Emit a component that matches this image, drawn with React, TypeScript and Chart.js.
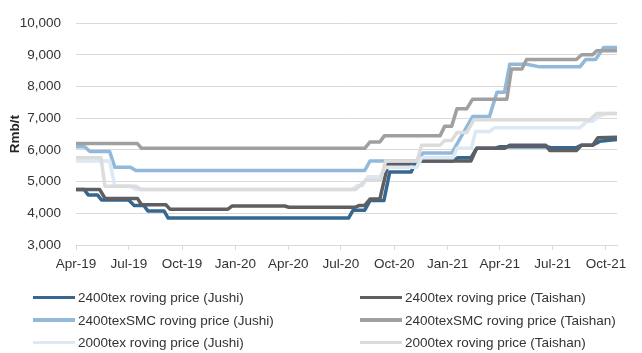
import React, { useEffect, useRef } from "react";
import { Chart, registerables } from "chart.js";

Chart.register(...registerables);

// ---------- data ----------
const seriesNames = [
  "2400tex roving price (Jushi)",
  "2400tex roving price (Taishan)",
  "2400texSMC roving price (Jushi)",
  "2400texSMC roving price (Taishan)",
  "2000tex roving price (Jushi)",
  "2000tex roving price (Taishan)",
];

const seriesColors = ["#356791", "#5f5f63", "#92b8da", "#a0a0a0", "#dce8f4", "#dcdcdc"];

const jushi2400Dates = [
  "2019-04-01", "2019-04-15", "2019-04-22", "2019-05-08", "2019-05-15", "2019-07-01", "2019-07-10",
  "2019-07-27", "2019-08-03", "2019-08-31", "2019-09-07", "2020-07-14", "2020-07-22", "2020-08-11",
  "2020-08-20", "2020-09-13", "2020-09-23", "2020-10-30", "2020-11-07", "2021-01-10", "2021-01-18",
  "2021-02-10", "2021-02-20", "2021-03-23", "2021-04-01", "2021-06-21", "2021-06-28", "2021-08-11",
  "2021-08-20", "2021-09-08", "2021-09-20", "2021-10-20",
];
const jushi2400Values = [
  4750, 4750, 4580, 4580, 4420, 4420, 4250, 4250, 4070, 4070, 3850, 3850, 4100, 4100, 4400, 4400,
  5300, 5300, 5650, 5650, 5750, 5750, 6050, 6050, 6100, 6100, 6070, 6070, 6150, 6150, 6270, 6330,
];

const taishan2400Dates = [
  "2019-04-01", "2019-05-12", "2019-05-21", "2019-07-16", "2019-07-23", "2019-09-03", "2019-09-10",
  "2019-12-19", "2019-12-26", "2020-03-26", "2020-04-02", "2020-07-25", "2020-08-02", "2020-08-11",
  "2020-08-20", "2020-09-06", "2020-09-20", "2020-10-28", "2020-11-07", "2021-02-10", "2021-02-20",
  "2021-04-09", "2021-04-18", "2021-06-19", "2021-06-26", "2021-08-11", "2021-08-20", "2021-09-08",
  "2021-09-17", "2021-10-20",
];
const taishan2400Values = [
  4750, 4750, 4470, 4470, 4270, 4270, 4130, 4130, 4230, 4230, 4190, 4190, 4250, 4250, 4450, 4450,
  5550, 5550, 5650, 5650, 6050, 6050, 6150, 6150, 5980, 5980, 6150, 6150, 6380, 6400,
];

const jushiSmcDates = [
  "2019-04-01", "2019-04-16", "2019-04-25", "2019-05-29", "2019-06-07", "2019-07-04", "2019-07-13",
  "2020-08-11", "2020-08-20", "2020-11-12", "2020-11-19", "2021-01-08", "2021-02-13", "2021-03-14",
  "2021-03-27", "2021-04-09", "2021-04-18", "2021-05-17", "2021-06-09", "2021-08-17", "2021-08-27",
  "2021-09-13", "2021-09-27", "2021-10-20",
];
const jushiSmcValues = [
  6100, 6100, 5950, 5950, 5450, 5450, 5350, 5350, 5650, 5650, 5900, 5900, 7050, 7050, 7820, 7820,
  8700, 8700, 8620, 8620, 8850, 8850, 9230, 9230,
];

const taishanSmcDates = [
  "2019-04-01", "2019-07-16", "2019-07-23", "2020-08-11", "2020-08-20", "2020-09-06", "2020-09-14",
  "2020-12-19", "2020-12-27", "2021-01-08", "2021-01-17", "2021-02-03", "2021-02-13", "2021-04-13",
  "2021-04-21", "2021-05-09", "2021-05-17", "2021-08-11", "2021-08-20", "2021-09-08", "2021-09-15",
  "2021-10-20",
];
const taishanSmcValues = [
  6200, 6200, 6050, 6050, 6250, 6250, 6450, 6450, 6750, 6750, 7300, 7300, 7600, 7600, 8550, 8550,
  8850, 8850, 9000, 9000, 9130, 9130,
];

const jushi2000Dates = [
  "2019-04-01", "2019-05-29", "2019-06-07", "2019-07-04", "2019-07-13", "2020-07-21", "2020-07-28",
  "2020-08-07", "2020-08-16", "2020-09-06", "2020-09-16", "2020-11-09", "2020-11-17", "2021-01-10",
  "2021-01-17", "2021-02-11", "2021-02-18", "2021-03-14", "2021-03-23", "2021-08-17", "2021-08-29",
  "2021-09-08", "2021-09-20", "2021-10-02", "2021-10-20",
];
const jushi2000Values = [
  5650, 5650, 4850, 4850, 4750, 4750, 4870, 4870, 5150, 5150, 5450, 5450, 5750, 5750, 6050, 6050,
  6580, 6580, 6700, 6700, 6900, 6900, 7070, 7150, 7150,
];

const taishan2000Dates = [
  "2019-04-01", "2019-05-14", "2019-05-21", "2019-07-13", "2019-07-22", "2020-07-26", "2020-08-13",
  "2020-09-07", "2020-09-16", "2020-11-09", "2020-11-17", "2020-12-19", "2020-12-27", "2021-01-08",
  "2021-01-17", "2021-02-03", "2021-02-15", "2021-09-03", "2021-09-15", "2021-10-20",
];
const taishan2000Values = [
  5750, 5750, 4850, 4850, 4750, 4750, 5050, 5050, 5650, 5650, 6150, 6150, 6300, 6300, 6550, 6550,
  6950, 6950, 7150, 7150,
];

const xStart = "2019-04-01";
const xEnd = "2021-10-20";
const tickDates = [
  "2019-04-01", "2019-07-01", "2019-10-01", "2020-01-01", "2020-04-01", "2020-07-01",
  "2020-10-01", "2021-01-01", "2021-04-01", "2021-07-01", "2021-10-01",
];
const tickLabels = [
  "Apr-19", "Jul-19", "Oct-19", "Jan-20", "Apr-20", "Jul-20",
  "Oct-20", "Jan-21", "Apr-21", "Jul-21", "Oct-21",
];
const yMin = 3000;
const yMax = 10000;
const yStep = 1000;
const yTitle = "Rmb/t";

// ---------- helpers ----------
const seriesDates = [jushi2400Dates, taishan2400Dates, jushiSmcDates, taishanSmcDates, jushi2000Dates, taishan2000Dates];
const seriesValues = [jushi2400Values, taishan2400Values, jushiSmcValues, taishanSmcValues, jushi2000Values, taishan2000Values];

const dayNum = (s: string) => {
  const [y, m, d] = s.split("-").map(Number);
  return Date.UTC(y, m - 1, d) / 86400000;
};

const FONT_FAMILY = "'Liberation Sans', Arial, sans-serif";
const TEXT_COLOR = "#333333";
const GRID_COLOR = "#d9d9d9";
const FONT_SIZE = 13.5;

export default function App() {
  const ref = useRef<HTMLCanvasElement>(null);

  useEffect(() => {
    if (!ref.current) return;
    const font = { family: FONT_FAMILY, size: FONT_SIZE };
    const chart = new Chart(ref.current, {
      type: "line",
      data: {
        datasets: seriesNames.map((name, i) => ({
          label: name,
          data: seriesDates[i].map((d, j) => ({ x: dayNum(d), y: seriesValues[i][j] })),
          borderColor: seriesColors[i],
          backgroundColor: seriesColors[i],
          borderWidth: 3.5,
          pointRadius: 0,
          tension: 0,
          fill: false,
          order: seriesNames.length - i,
          borderJoinStyle: "round",
          borderCapStyle: "butt",
        })),
      },
      options: {
        animation: false,
        responsive: false,
        layout: { padding: { top: 23, right: 25, bottom: 77, left: 0 } },
        plugins: { legend: { display: false }, tooltip: { enabled: false } },
        scales: {
          x: {
            type: "linear",
            min: dayNum(xStart),
            max: dayNum(xEnd),
            afterBuildTicks: (s: any) => {
              s.ticks = tickDates.map((d) => ({ value: dayNum(d) }));
            },
            afterFit: (s: any) => {
              s.height = 31;
            },
            ticks: {
              callback: (_v: any, i: number) => tickLabels[i],
              autoSkip: false,
              maxRotation: 0,
              padding: 6,
              font,
              color: TEXT_COLOR,
            },
            grid: { drawOnChartArea: false, drawTicks: true, tickLength: 5, color: GRID_COLOR },
            border: { display: true, color: GRID_COLOR },
          },
          y: {
            min: yMin,
            max: yMax,
            afterFit: (s: any) => {
              s.width = 76;
            },
            ticks: {
              stepSize: yStep,
              callback: (v: any) => Number(v).toLocaleString("en-US"),
              padding: 15,
              font,
              color: TEXT_COLOR,
            },
            grid: { color: GRID_COLOR, drawTicks: false },
            border: { display: false },
            title: {
              display: true,
              text: yTitle,
              font: { ...font, weight: "bold" },
              color: "#262626",
              padding: { top: 7, bottom: 0 },
            },
          },
        },
      },
    } as any);
    return () => chart.destroy();
  }, []);

  return (
    <div style={{ position: "absolute", left: 0, top: 0, width: 642, height: 353, background: "#fff" }}>
      <canvas ref={ref} width={642} height={353} style={{ display: "block" }} />
      {seriesNames.map((name, i) => {
        const col = i % 2;
        const row = Math.floor(i / 2);
        const left = col === 0 ? 33 : 360;
        const cy = 297.7 + row * 22.3;
        return (
          <div
            key={name}
            style={{
              position: "absolute",
              left,
              top: cy - 10,
              height: 20,
              display: "flex",
              alignItems: "center",
              fontFamily: FONT_FAMILY,
              fontSize: FONT_SIZE,
              color: TEXT_COLOR,
              whiteSpace: "nowrap",
            }}
          >
            <span style={{ display: "inline-block", width: 42, height: 3.5, background: seriesColors[i], marginRight: 3 }} />
            <span>{name}</span>
          </div>
        );
      })}
    </div>
  );
}
